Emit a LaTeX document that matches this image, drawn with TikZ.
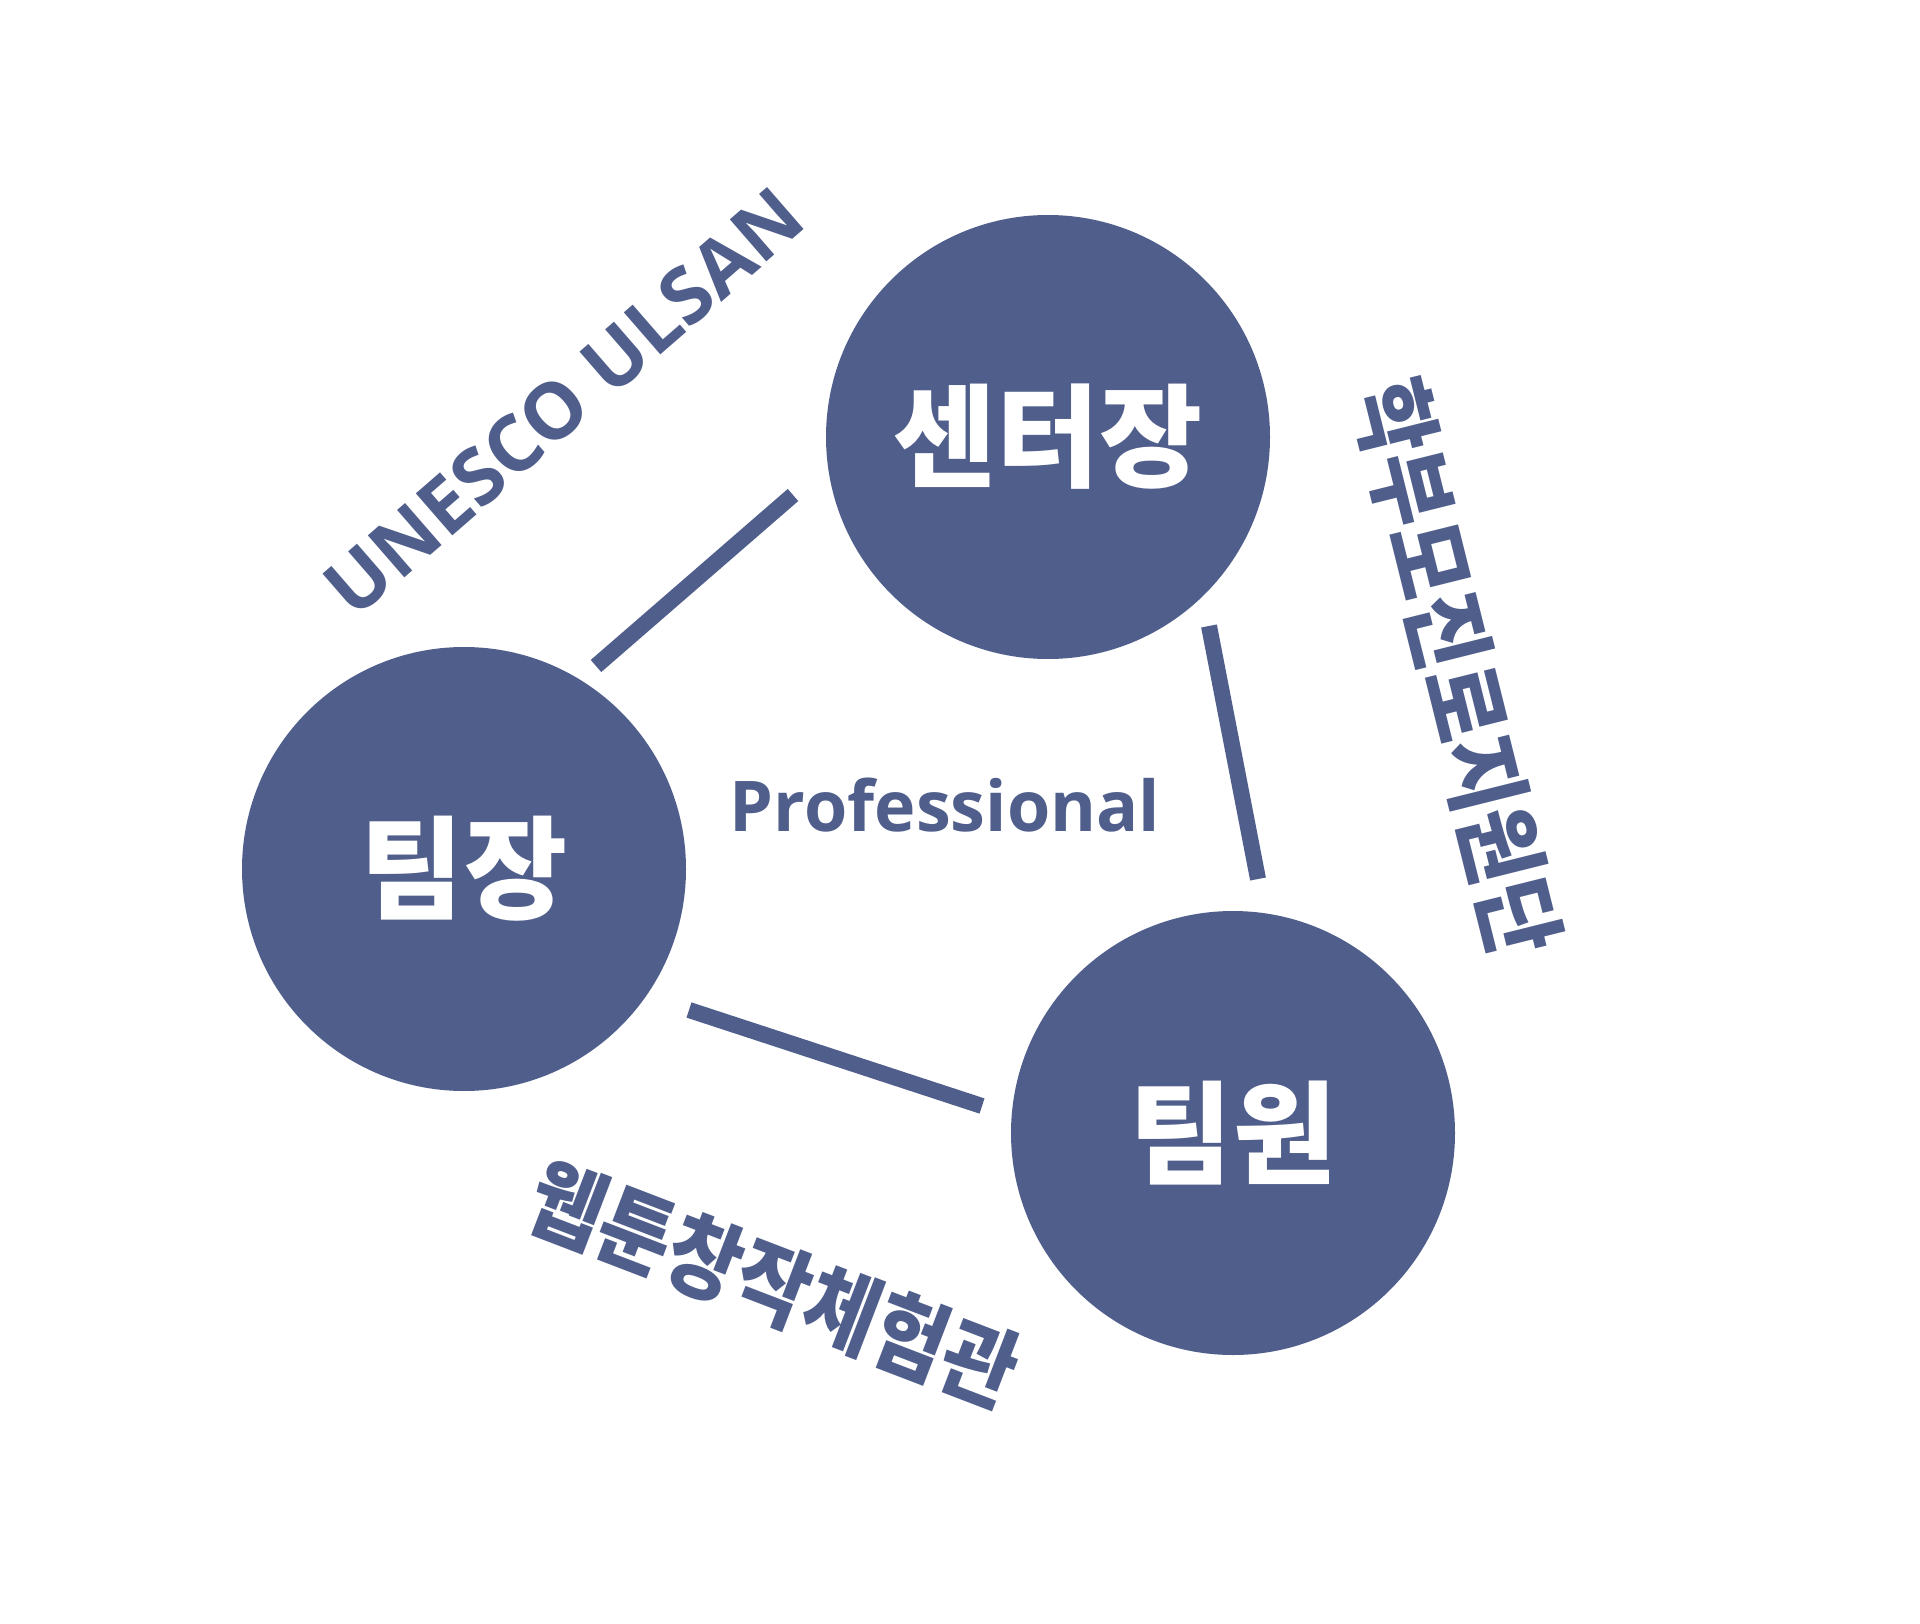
\documentclass[tikz,border=0pt]{standalone}
\usepackage{fontspec}
\usetikzlibrary{calc}
\newfontfamily\kr[Script=Hangul,Language=Korean]{Noto Sans CJK KR}
\newfontfamily\lat{Open Sans}
\definecolor{main}{RGB}{80,94,140}
\tikzset{
  bubble/.style={circle, fill=main, minimum size=444pt, inner sep=0pt, text=white, font=\kr\bfseries\fontsize{112}{120}\selectfont},
  conn/.style={draw=main, line width=16pt},
  sidelabel/.style={text=main, inner sep=0pt, font=\kr\bfseries\fontsize{80}{90}\selectfont},
}
\begin{document}
\begin{tikzpicture}[x=1pt,y=-1pt]
\fill[white] (0,0) rectangle (1920,1624);
\useasboundingbox (0,0) rectangle (1920,1624);
\node[bubble] (ct) at (1048,437) {센터장};
\node[bubble] (tj) at (464,869) {팀장};
\node[bubble] (tw) at (1233,1133) {팀원};
\draw[conn] ($(tj)+(132,-203)$) -- ($(ct)+(-255,58)$);
\draw[conn] ($(ct)+(161,189)$) -- ($(tw)+(25,-254)$);
\draw[conn] ($(tj)+(225,141)$) -- ($(tw)+(-251,-27)$);
\node[text=main, inner sep=0pt, font=\lat\bfseries\fontsize{70}{80}\selectfont] (pro) at (945,805) {Professional};
\node[text=main, inner sep=0pt, rotate=41, font=\lat\bfseries\fontsize{78}{90}\selectfont] (un) at (564,402) {UNESCO ULSAN};
\node[sidelabel, rotate=-76] (hb) at (1457,667) {\scalebox{1}[1.12]{학부모진로지원단}};
\node[sidelabel, rotate=-21] (wt) at (774,1284) {\scalebox{1}[1.12]{웹툰창작체험관}};
\end{tikzpicture}
\end{document}
